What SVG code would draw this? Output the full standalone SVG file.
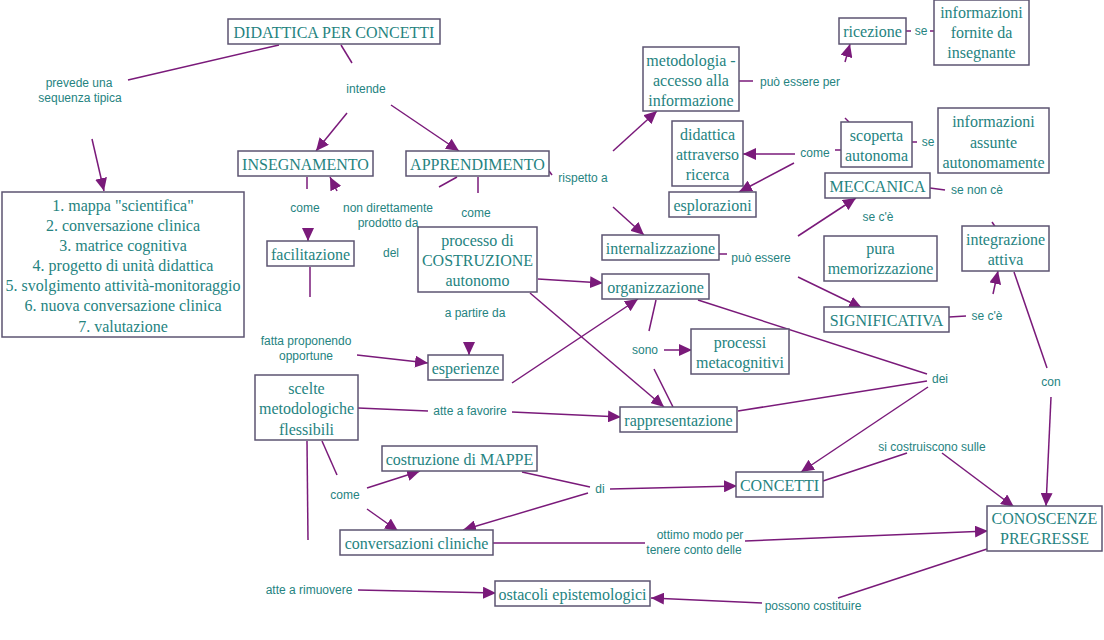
<svg xmlns="http://www.w3.org/2000/svg" width="1104" height="640" viewBox="0 0 1104 640">
<defs>
<marker id="ah" markerUnits="userSpaceOnUse" markerWidth="14" markerHeight="12" refX="13" refY="6" orient="auto">
<path d="M0,0 L13,6 L0,12 z" fill="#7a1a7a"/>
</marker>
<style>
.c{stroke:#7a1a7a;stroke-width:1.5;fill:none}
.a{stroke:#7a1a7a;stroke-width:1.5;fill:none;marker-end:url(#ah)}
.n rect{fill:#ffffff;stroke:#5c5472;stroke-width:1.5}
.n text{font-family:"Liberation Serif","Times New Roman",serif;font-size:16px;fill:#25837f;text-anchor:middle;dominant-baseline:central}
.l text{font-family:"Liberation Sans",Arial,sans-serif;font-size:12px;fill:#25837f;text-anchor:middle;dominant-baseline:central}
</style>
</defs>
<rect width="1104" height="640" fill="#ffffff"/>
<g id="connectors">
<path class="c" d="M279,45 L128,80"/>
<path class="a" d="M92,139 L104,191"/>
<path class="c" d="M341,45 L352,63"/>
<path class="a" d="M347,113 L316,151"/>
<path class="a" d="M391,105 L459,151"/>
<path class="c" d="M307,177 L307,189"/>
<path class="a" d="M308,229 L308,241"/>
<path class="c" d="M310,267 L310,297"/>
<path class="a" d="M357,355 L428,363"/>
<path class="c" d="M457,177 L439,187"/>
<path class="a" d="M337,191 L330,177"/>
<path class="c" d="M478,177 L478,193"/>
<path class="c" d="M549,171 L552,175"/>
<path class="a" d="M613,151 L657,111"/>
<path class="a" d="M613,207 L644,235"/>
<path class="c" d="M739,81 L753,81"/>
<path class="a" d="M845,62 L850,44"/>
<path class="c" d="M845,118 L849,122"/>
<path class="c" d="M906,31 L911,31"/>
<path class="c" d="M930,31 L934,31"/>
<path class="c" d="M912,142 L917,142"/>
<path class="c" d="M841,150 L835,150"/>
<path class="a" d="M795,154 L743,154"/>
<path class="a" d="M794,163 L739,192"/>
<path class="c" d="M930,188 L945,190"/>
<path class="c" d="M992,222 L996,228"/>
<path class="c" d="M719,254 L727,254"/>
<path class="a" d="M798,236 L856,198"/>
<path class="a" d="M798,277 L862,308"/>
<path class="c" d="M949,317 L966,316"/>
<path class="a" d="M993,294 L998,271"/>
<path class="c" d="M1014,272 L1047,368"/>
<path class="a" d="M1051,397 L1046,506"/>
<path class="a" d="M538,279 L603,283"/>
<path class="a" d="M530,293 L664,407"/>
<path class="a" d="M469,343 L469,355"/>
<path class="a" d="M512,383 L638,299"/>
<path class="c" d="M656,300 L649,331"/>
<path class="a" d="M664,350 L692,350"/>
<path class="c" d="M654,369 L673,407"/>
<path class="c" d="M698,300 L927,374"/>
<path class="c" d="M738,411 L927,381"/>
<path class="a" d="M928,387 L801,472"/>
<path class="c" d="M358,408 L428,411"/>
<path class="a" d="M512,412 L621,417"/>
<path class="c" d="M322,441 L337,475"/>
<path class="a" d="M367,488 L420,471"/>
<path class="a" d="M367,509 L398,531"/>
<path class="c" d="M307,441 L308,540"/>
<path class="a" d="M358,590 L496,593"/>
<path class="c" d="M522,472 L590,487"/>
<path class="a" d="M610,489 L737,486"/>
<path class="a" d="M588,493 L463,530"/>
<path class="c" d="M823,481 L907,453"/>
<path class="a" d="M942,453 L1014,507"/>
<path class="c" d="M493,543 L645,543"/>
<path class="a" d="M745,541 L988,531"/>
<path class="c" d="M987,549 L838,598"/>
<path class="a" d="M762,603 L651,598"/>
</g>
<g id="n-didattica" class="n"><rect x="228" y="19" width="212" height="25"/><text x="334" y="32">DIDATTICA PER CONCETTI</text></g>
<g id="n-insegnamento" class="n"><rect x="238" y="151" width="135" height="25"/><text x="305.5" y="164">INSEGNAMENTO</text></g>
<g id="n-apprendimento" class="n"><rect x="406" y="151" width="143" height="25"/><text x="477.5" y="164">APPRENDIMENTO</text></g>
<g id="n-sequenza" class="n"><rect x="2" y="192" width="242" height="145"/>
<text x="123" y="205">1. mappa "scientifica"</text>
<text x="123" y="225">2. conversazione clinica</text>
<text x="123" y="245">3. matrice cognitiva</text>
<text x="123" y="265">4. progetto di unità didattica</text>
<text x="123" y="285">5. svolgimento attività-monitoraggio</text>
<text x="123" y="305">6. nuova conversazione clinica</text>
<text x="123" y="326">7. valutazione</text></g>
<g id="n-facilitazione" class="n"><rect x="267" y="241" width="87" height="25"/><text x="310.5" y="254">facilitazione</text></g>
<g id="n-processo" class="n"><rect x="418" y="227" width="119" height="65"/><text x="477.5" y="240">processo di</text><text x="477.5" y="260">COSTRUZIONE</text><text x="477.5" y="280">autonomo</text></g>
<g id="n-metodologia" class="n"><rect x="643" y="47" width="96" height="64"/><text x="691" y="60">metodologia -</text><text x="691" y="80">accesso alla</text><text x="691" y="100">informazione</text></g>
<g id="n-ricezione" class="n"><rect x="839" y="18" width="67" height="26"/><text x="872.5" y="31">ricezione</text></g>
<g id="n-info-fornite" class="n"><rect x="934" y="0" width="95" height="65"/><text x="981.5" y="12">informazioni</text><text x="981.5" y="32">fornite da</text><text x="981.5" y="52">insegnante</text></g>
<g id="n-didattica-ricerca" class="n"><rect x="672" y="121" width="71" height="65"/><text x="707.5" y="134">didattica</text><text x="707.5" y="154">attraverso</text><text x="707.5" y="174">ricerca</text></g>
<g id="n-esplorazioni" class="n"><rect x="669" y="192" width="87" height="25"/><text x="712.5" y="205">esplorazioni</text></g>
<g id="n-scoperta" class="n"><rect x="841" y="122" width="71" height="45"/><text x="876.5" y="135">scoperta</text><text x="876.5" y="155">autonoma</text></g>
<g id="n-info-assunte" class="n"><rect x="938" y="108" width="111" height="65"/><text x="993.5" y="121">informazioni</text><text x="993.5" y="142">assunte</text><text x="993.5" y="162">autonomamente</text></g>
<g id="n-meccanica" class="n"><rect x="825" y="173" width="105" height="25"/><text x="877.5" y="186">MECCANICA</text></g>
<g id="n-internalizzazione" class="n"><rect x="602" y="235" width="117" height="25"/><text x="660.5" y="248">internalizzazione</text></g>
<g id="n-pura" class="n"><rect x="824" y="236" width="113" height="45"/><text x="880.5" y="248">pura</text><text x="880.5" y="268">memorizzazione</text></g>
<g id="n-integrazione" class="n"><rect x="962" y="226" width="87" height="45"/><text x="1005.5" y="239">integrazione</text><text x="1005.5" y="259">attiva</text></g>
<g id="n-significativa" class="n"><rect x="824" y="307" width="125" height="25"/><text x="886.5" y="320">SIGNIFICATIVA</text></g>
<g id="n-organizzazione" class="n"><rect x="602" y="274" width="107" height="25"/><text x="655.5" y="287">organizzazione</text></g>
<g id="n-metacognitivi" class="n"><rect x="691" y="329" width="98" height="45"/><text x="740" y="342">processi</text><text x="740" y="362">metacognitivi</text></g>
<g id="n-esperienze" class="n"><rect x="428" y="355" width="75" height="25"/><text x="465.5" y="368">esperienze</text></g>
<g id="n-scelte" class="n"><rect x="255" y="375" width="103" height="65"/><text x="306.5" y="388">scelte</text><text x="306.5" y="408">metodologiche</text><text x="306.5" y="429">flessibili</text></g>
<g id="n-rappresentazione" class="n"><rect x="620" y="407" width="117" height="25"/><text x="678.5" y="420">rappresentazione</text></g>
<g id="n-mappe" class="n"><rect x="382" y="446" width="155" height="25"/><text x="459.5" y="459">costruzione di MAPPE</text></g>
<g id="n-concetti" class="n"><rect x="736" y="472" width="87" height="25"/><text x="779.5" y="485">CONCETTI</text></g>
<g id="n-conversazioni" class="n"><rect x="340" y="530" width="153" height="25"/><text x="416.5" y="543">conversazioni cliniche</text></g>
<g id="n-conoscenze" class="n"><rect x="987" y="506" width="115" height="45"/><text x="1044.5" y="518">CONOSCENZE</text><text x="1044.5" y="538">PREGRESSE</text></g>
<g id="n-ostacoli" class="n"><rect x="495" y="581" width="155" height="25"/><text x="572.5" y="594">ostacoli epistemologici</text></g>
<g id="labels" class="l">
<text x="79" y="83">prevede una</text>
<text x="80" y="98">sequenza tipica</text>
<text x="366" y="89">intende</text>
<text x="305" y="208">come</text>
<text x="388" y="208">non direttamente</text>
<text x="388" y="223">prodotto da</text>
<text x="476" y="213">come</text>
<text x="391" y="253">del</text>
<text x="583" y="178">rispetto a</text>
<text x="800" y="82">può essere per</text>
<text x="921" y="31">se</text>
<text x="815" y="153">come</text>
<text x="928" y="142">se</text>
<text x="977" y="190">se non cè</text>
<text x="878" y="217">se c'è</text>
<text x="761" y="258">può essere</text>
<text x="987" y="316">se c'è</text>
<text x="475" y="313">a partire da</text>
<text x="645" y="350">sono</text>
<text x="306" y="341">fatta proponendo</text>
<text x="306" y="356">opportune</text>
<text x="940" y="379">dei</text>
<text x="1051" y="382">con</text>
<text x="470" y="411">atte a favorire</text>
<text x="345" y="495">come</text>
<text x="600" y="489">di</text>
<text x="932" y="447">si costruiscono sulle</text>
<text x="700" y="535">ottimo modo per</text>
<text x="694" y="550">tenere conto delle</text>
<text x="309" y="590">atte a rimuovere</text>
<text x="813" y="606">possono costituire</text>
</g>
</svg>
